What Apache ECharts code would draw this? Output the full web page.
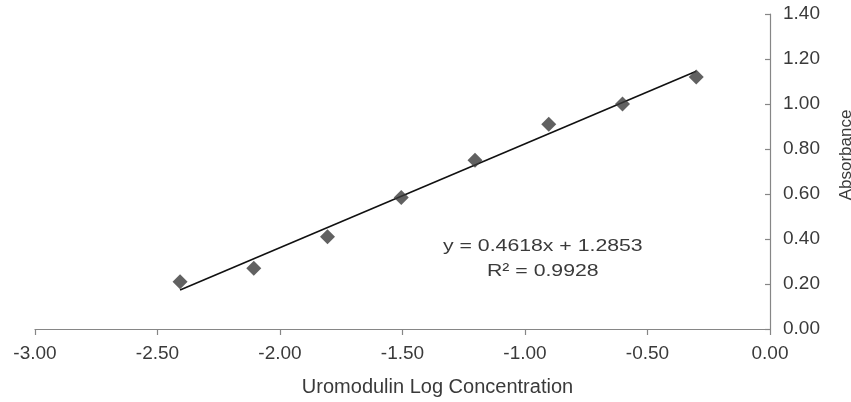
<!DOCTYPE html>
<html>
<head>
<meta charset="utf-8">
<script src="https://cdn.jsdelivr.net/npm/echarts@6/dist/echarts.min.js"></script>
<style>
html,body{margin:0;padding:0;background:#fff;}
#chart{width:851px;height:402px;}
</style>
</head>
<body>
<div id="chart"></div>
<script>
// Data
var logConc = [-2.408, -2.107, -1.806, -1.505, -1.204, -0.903, -0.602, -0.301];
var absorbance = [0.21, 0.27, 0.41, 0.585, 0.75, 0.91, 1.00, 1.12];
var trendX = [-2.408, -0.301];
var trendY = [0.173, 1.146];
var equationText = 'y = 0.4618x + 1.2853';
var r2Text = 'R² = 0.9928';
var xTitle = 'Uromodulin Log Concentration';
var yTitle = 'Absorbance';

var points = logConc.map(function (x, i) { return [x, absorbance[i]]; });
var trend = trendX.map(function (x, i) { return [x, trendY[i]]; });

var textColor = '#3a3a3a';
var axisColor = '#868686';
var chart = echarts.init(document.getElementById('chart'));
chart.setOption({
  animation: false,
  backgroundColor: '#ffffff',
  grid: { left: 35, right: 81, top: 14, bottom: 73, containLabel: false, outerBoundsMode: 'none' },
  xAxis: {
    type: 'value', min: -3, max: 0, interval: 0.5,
    name: xTitle, nameLocation: 'middle', nameGap: 48,
    nameTextStyle: { fontFamily: 'Liberation Sans', fontSize: 20, color: textColor, padding: [0, 0, 0, 70] },
    axisLine: { show: true, onZero: false, lineStyle: { color: axisColor, width: 1.2 } },
    axisTick: { show: true, inside: false, length: 6, lineStyle: { color: axisColor, width: 1.2 } },
    axisLabel: { margin: 15, fontFamily: 'Liberation Sans', fontSize: 19, color: textColor,
      formatter: function (v) { return v.toFixed(2); } },
    splitLine: { show: false }
  },
  yAxis: {
    type: 'value', position: 'right', min: 0, max: 1.4, interval: 0.2,
    name: yTitle, nameLocation: 'middle', nameGap: 68, nameRotate: 90,
    nameTextStyle: { fontFamily: 'Liberation Sans', fontSize: 17, color: textColor, padding: [0, 0, 0, 33] },
    axisLine: { show: true, onZero: false, lineStyle: { color: axisColor, width: 1.2 } },
    axisTick: { show: true, inside: true, length: 5, lineStyle: { color: axisColor, width: 1.2 } },
    axisLabel: { margin: 13, fontFamily: 'Liberation Sans', fontSize: 19, color: textColor,
      formatter: function (v) { return v.toFixed(2); } },
    splitLine: { show: false }
  },
  series: [
    {
      type: 'line', data: trend, showSymbol: false, symbol: 'none',
      lineStyle: { color: '#111111', width: 1.6 }, z: 2, silent: true
    },
    {
      type: 'scatter', data: points, symbol: 'diamond', symbolSize: 15,
      itemStyle: { color: '#3a3a3a' }, z: 3
    }
  ],
  graphic: [
    { type: 'text', left: 443, top: 238, scaleX: 1.25,
      style: { text: equationText, font: '17px "Liberation Sans"', fill: textColor } },
    { type: 'text', left: 487, top: 263, scaleX: 1.25,
      style: { text: r2Text, font: '17px "Liberation Sans"', fill: textColor } }
  ]
});
</script>
</body>
</html>
